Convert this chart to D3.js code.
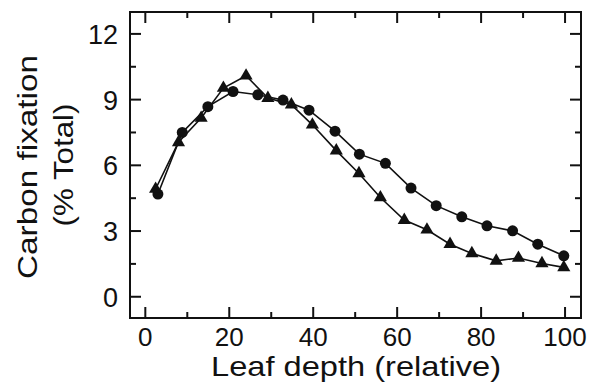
<!DOCTYPE html>
<html>
<head>
<meta charset="utf-8">
<script src="https://cdn.jsdelivr.net/npm/d3@7"></script>
<style>
  body { margin: 0; background: #fff; }
  text { font-family: "Liberation Sans", Arial, sans-serif; fill: #111; }
</style>
</head>
<body>
<svg id="chart" width="597" height="384"></svg>
<script>
// Carbon fixation vs leaf depth, two profiles

const circleX = [3.0, 8.8, 14.9, 20.9, 26.8, 32.8, 39.0, 45.2, 51.0, 57.2, 63.3, 69.3, 75.4, 81.4, 87.5, 93.5, 99.7];
const circleY = [4.69, 7.5, 8.68, 9.37, 9.22, 8.98, 8.52, 7.56, 6.51, 6.09, 4.96, 4.16, 3.65, 3.24, 3.01, 2.40, 1.87];

const triX = [2.45, 7.9, 13.3, 18.6, 24.0, 29.2, 34.8, 39.8, 45.5, 50.9, 56.0, 61.7, 67.1, 72.6, 77.8, 83.6, 88.9, 94.5, 99.7];
const triY = [4.92, 7.05, 8.16, 9.53, 10.09, 9.07, 8.77, 7.85, 6.67, 5.63, 4.53, 3.50, 3.06, 2.40, 1.98, 1.64, 1.77, 1.52, 1.34];

const xTicks = [0, 20, 40, 60, 80, 100];
const xMinor = [10, 30, 50, 70, 90];
const yTicks = [0, 3, 6, 9, 12];
const yMinor = [1.5, 4.5, 7.5, 10.5];

const pLeft = 130, pRight = 581, pTop = 12, pBottom = 318;

const svg = d3.select("#chart");

const x = d3.scaleLinear().domain([-3.65, 103.8]).range([pLeft, pRight]);
const y = d3.scaleLinear().domain([-0.97, 13.0]).range([pBottom, pTop]);

// frame
svg.append("rect")
  .attr("x", pLeft).attr("y", pTop)
  .attr("width", pRight - pLeft).attr("height", pBottom - pTop)
  .attr("fill", "none").attr("stroke", "#111").attr("stroke-width", 2);

const tickG = svg.append("g").attr("stroke", "#111").attr("stroke-width", 2);

function xTick(v, len) {
  tickG.append("line").attr("x1", x(v)).attr("x2", x(v)).attr("y1", pBottom).attr("y2", pBottom - len);
  tickG.append("line").attr("x1", x(v)).attr("x2", x(v)).attr("y1", pTop).attr("y2", pTop + len);
}
function yTick(v, len) {
  tickG.append("line").attr("y1", y(v)).attr("y2", y(v)).attr("x1", pLeft).attr("x2", pLeft + len);
  tickG.append("line").attr("y1", y(v)).attr("y2", y(v)).attr("x1", pRight).attr("x2", pRight - len);
}
xTicks.forEach(v => xTick(v, 11));
xMinor.forEach(v => xTick(v, 6));
yTicks.forEach(v => yTick(v, 11));
yMinor.forEach(v => yTick(v, 6));

svg.append("g").selectAll("text")
  .data(xTicks).join("text")
  .attr("x", d => x(d)).attr("y", 346)
  .attr("text-anchor", "middle")
  .attr("font-size", 26)
  .text(d => d);

svg.append("g").selectAll("text")
  .data(yTicks).join("text")
  .attr("x", 118).attr("y", d => y(d) + 10)
  .attr("text-anchor", "end")
  .attr("font-size", 27)
  .text(d => d);

svg.append("text")
  .attr("x", 356).attr("y", 376)
  .attr("text-anchor", "middle")
  .attr("font-size", 28)
  .attr("textLength", 290)
  .attr("lengthAdjust", "spacingAndGlyphs")
  .text("Leaf depth (relative)");

svg.append("text")
  .attr("transform", "translate(37,167) rotate(-90)")
  .attr("text-anchor", "middle")
  .attr("font-size", 28)
  .attr("textLength", 224)
  .attr("lengthAdjust", "spacingAndGlyphs")
  .text("Carbon fixation");

svg.append("text")
  .attr("transform", "translate(73,165) rotate(-90)")
  .attr("text-anchor", "middle")
  .attr("font-size", 28)
  .attr("textLength", 123)
  .attr("lengthAdjust", "spacingAndGlyphs")
  .text("(% Total)");

// series
const circles = circleX.map((v, i) => [v, circleY[i]]);
const tris = triX.map((v, i) => [v, triY[i]]);

const line = d3.line().x(d => x(d[0])).y(d => y(d[1]));

svg.append("path").datum(circles).attr("d", line)
  .attr("fill", "none").attr("stroke", "#111").attr("stroke-width", 1.6);
svg.append("path").datum(tris).attr("d", line)
  .attr("fill", "none").attr("stroke", "#111").attr("stroke-width", 1.6);

svg.append("g").selectAll("circle")
  .data(circles).join("circle")
  .attr("cx", d => x(d[0])).attr("cy", d => y(d[1]))
  .attr("r", 5.5).attr("fill", "#111");

const triSym = d3.symbol().type(d3.symbolTriangle).size(75);
svg.append("g").selectAll("path")
  .data(tris).join("path")
  .attr("transform", d => `translate(${x(d[0])},${y(d[1])})`)
  .attr("d", triSym).attr("fill", "#111");
</script>
</body>
</html>
